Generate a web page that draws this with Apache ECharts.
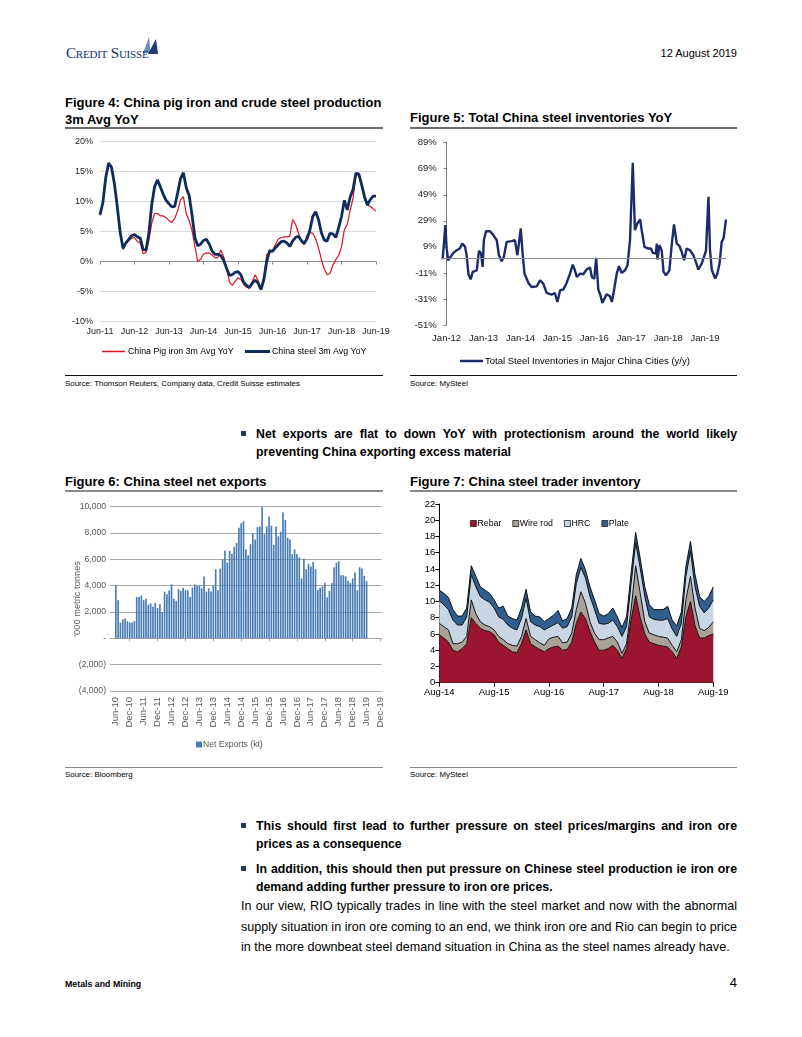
<!DOCTYPE html>
<html><head><meta charset="utf-8">
<script src="https://cdn.jsdelivr.net/npm/echarts@6/dist/echarts.min.js"></script>
<style>
html,body{margin:0;padding:0;background:#fff}
body{width:802px;height:1037px;position:relative;overflow:hidden;font-family:"Liberation Sans",Arial,sans-serif;color:#000}
.a{position:absolute;white-space:nowrap}
.title{font-weight:bold;font-size:13px;line-height:17px}
.src{font-size:7.9px;line-height:12px}
.bul{font-weight:bold;font-size:12.3px;line-height:18px}
.body{font-size:12.6px;line-height:18px}
.j{display:inline-block}
.sq{position:absolute;width:5px;height:5px;background:#1f3864}
.rule{position:absolute;height:0}
.chart{position:absolute}
</style>
</head><body>

<!-- header -->
<svg class="a" style="left:141px;top:36px" width="20" height="20" viewBox="0 0 20 20">
  <polygon points="2,17 8,1 9.5,17" fill="#6a8cc4"/>
  <polygon points="7,18 15,3 17,18" fill="#1d3c78"/>
</svg>
<div class="a" style="left:66px;top:45px;font-family:'Liberation Serif',serif;font-variant:small-caps;font-size:15px;line-height:16px;color:#13306a;letter-spacing:-0.2px">Credit Suisse</div>
<div class="a" style="right:65px;top:46px;font-size:11px;line-height:14px">12 August 2019</div>

<!-- figure 4 / 5 titles -->
<div class="a title" style="left:65px;top:93.5px">Figure 4: China pig iron and crude steel production<br>3m Avg YoY</div>
<div class="a title" style="left:410px;top:109px">Figure 5: Total China steel inventories YoY</div>
<div class="rule" style="left:65px;top:127px;width:318px;border-top:2px solid #6b6b6b"></div>
<div class="rule" style="left:410px;top:127px;width:327px;border-top:2px solid #6b6b6b"></div>

<div id="c4" class="chart" style="left:60px;top:132px;width:330px;height:235px"></div>
<div id="c5" class="chart" style="left:400px;top:132px;width:340px;height:235px"></div>

<div class="rule" style="left:65px;top:375px;width:318px;border-top:1px solid #111"></div>
<div class="rule" style="left:410px;top:375px;width:327px;border-top:1px solid #111"></div>
<div class="a src" style="left:65px;top:378px">Source: Thomson Reuters, Company data, Credit Suisse estimates</div>
<div class="a src" style="left:410px;top:378px">Source: MySteel</div>

<!-- bullet 1 -->
<div class="sq" style="left:241px;top:431px"></div>
<div class="a bul" style="left:256px;top:425px"><span class="j" data-w="481">Net exports are flat to down YoY with protectionism around the world likely</span></div>
<div class="a bul" style="left:256px;top:443px">preventing China exporting excess material</div>

<!-- figure 6 / 7 titles -->
<div class="a title" style="left:65px;top:472.5px">Figure 6: China steel net exports</div>
<div class="a title" style="left:410px;top:472.5px">Figure 7: China steel trader inventory</div>
<div class="rule" style="left:65px;top:490px;width:318px;border-top:2px solid #8a8a8a"></div>
<div class="rule" style="left:410px;top:490px;width:327px;border-top:2px solid #8a8a8a"></div>

<div id="c6" class="chart" style="left:60px;top:495px;width:340px;height:265px"></div>
<div id="c7" class="chart" style="left:400px;top:495px;width:340px;height:210px"></div>

<div class="rule" style="left:65px;top:767px;width:318px;border-top:1px solid #888"></div>
<div class="rule" style="left:410px;top:767px;width:327px;border-top:1px solid #888"></div>
<div class="a src" style="left:65px;top:769px">Source: Bloomberg</div>
<div class="a src" style="left:410px;top:769px">Source: MySteel</div>

<!-- bullets 2,3 -->
<div class="sq" style="left:241px;top:823px"></div>
<div class="a bul" style="left:256px;top:817px"><span class="j" data-w="481">This should first lead to further pressure on steel prices/margins and iron ore</span></div>
<div class="a bul" style="left:256px;top:835px">prices as a consequence</div>
<div class="sq" style="left:241px;top:866px"></div>
<div class="a bul" style="left:256px;top:860px"><span class="j" data-w="481">In addition, this should then put pressure on Chinese steel production ie iron ore</span></div>
<div class="a bul" style="left:256px;top:878px">demand adding further pressure to iron ore prices.</div>

<!-- body -->
<div class="a body" style="left:241px;top:897px"><span class="j" data-w="496">In our view, RIO typically trades in line with the steel market and now with the abnormal</span></div>
<div class="a body" style="left:241px;top:918px"><span class="j" data-w="496">supply situation in iron ore coming to an end, we think iron ore and Rio can begin to price</span></div>
<div class="a body" style="left:241px;top:938px">in the more downbeat steel demand situation in China as the steel names already have.</div>

<!-- footer -->
<div class="a" style="left:65px;top:977px;font-weight:bold;font-size:8.8px;line-height:14px">Metals and Mining</div>
<div class="a" style="right:65px;top:975px;font-size:13px;line-height:16px">4</div>

<script>
// ---------- DATA ----------
const MON = ['Jan','Feb','Mar','Apr','May','Jun','Jul','Aug','Sep','Oct','Nov','Dec'];
function monthLabels(y, m, n){ const out=[]; for(let i=0;i<n;i++){const mm=(m+i)%12, yy=y+Math.floor((m+i)/12); out.push(MON[mm]+'-'+String(yy%100).padStart(2,'0'));} return out; }

// Figure 4: Jun-11 .. Jun-19 monthly
const f4Categories = monthLabels(2011, 5, 97);
const f4SteelYoY = [7.8,9.8,14.0,16.4,15.7,13.0,9.2,4.9,2.2,3.1,
  3.7,4.3,4.5,4.1,3.9,2.0,1.9,4.7,9.5,12.5,
  13.6,12.4,11.2,10.2,9.6,9.1,9.2,11.4,13.8,14.8,
  12.3,11.0,7.8,4.0,2.6,2.9,3.5,3.7,2.9,1.7,
  1.2,1.2,1.0,0.2,-1.1,-2.3,-2.2,-1.8,-1.7,-2.2,
  -3.5,-4.0,-4.3,-3.6,-3.1,-3.6,-4.7,-3.0,0.0,1.8,
  1.7,2.3,2.8,3.3,3.4,3.1,2.5,3.4,4.0,4.2,
  3.5,3.0,3.8,5.2,7.5,8.3,7.0,4.8,3.6,3.4,
  4.7,4.6,4.0,5.6,7.5,10.2,8.6,10.7,12.0,14.7,
  14.6,12.8,10.8,9.4,10.3,10.9,10.9];
const f4PigIronYoY = [7.7,9.7,13.9,16.3,15.6,12.9,9.0,4.7,2.0,3.0,
  3.5,3.9,4.0,3.3,3.1,1.3,1.5,3.5,6.4,8.0,
  8.0,7.6,7.6,7.3,6.8,6.5,7.2,8.4,10.3,10.8,
  8.0,6.8,5.2,2.5,0.0,0.4,1.2,1.4,1.4,1.1,
  0.6,0.6,1.9,0.8,-1.0,-3.4,-4.0,-3.3,-2.7,-3.0,
  -3.8,-4.3,-4.5,-3.3,-2.2,-3.2,-4.6,-2.5,1.2,1.4,
  1.8,2.8,3.7,4.0,4.1,4.1,4.2,7.0,6.2,4.8,
  3.5,2.8,4.4,4.8,4.7,3.8,2.3,0.3,-1.2,-2.2,
  -2.0,-0.6,0.3,1.0,2.4,5.3,6.2,8.5,10.5,14.2,
  14.6,12.6,10.5,9.4,9.2,8.8,8.4];

// Figure 5: months since Jan-12, YoY %
const f5MonthsSinceJan12 = [-1.3,-0.4,0.0,0.5,1.1,2.2,3.3,4.3,5.1,6.0,6.5,7.1,7.8,8.5,9.8,10.5,11.2,11.7,12.1,12.8,
  14.1,15.2,16.3,17.0,17.9,18.6,19.5,21.1,22.2,22.8,23.0,23.5,24.1,24.7,25.3,26.6,27.6,29.3,30.4,31.4,
  32.5,34.1,35.2,36.0,36.9,37.9,39.0,40.1,41.0,41.7,42.3,43.4,44.4,45.5,46.6,47.2,48.0,48.6,49.3,49.9,
  50.6,52.0,53.1,53.7,54.4,55.3,56.0,56.9,58.0,58.8,59.6,60.5,61.2,62.0,62.9,63.4,64.3,65.6,66.4,67.0,
  68.0,68.3,68.5,69.2,69.9,70.5,71.3,72.4,73.2,73.9,74.8,75.7,76.4,77.2,78.0,79.1,80.2,81.1,81.8,82.9,
  83.7,84.3,85.1,85.6,86.2,87.3,88.0,88.7,89.4,90.0,90.8];
const f5InventoryYoY = [-0.5,25.7,8.0,-1.3,-0.7,4.4,6.4,7.7,11.6,9.0,2.6,-12.0,-15.9,-10.2,-9.0,6.0,3.9,-6.4,14.1,21.0,
  21.0,18.0,14.1,2.6,-2.0,1.3,12.8,13.4,14.1,14.1,2.6,11.6,23.1,3.9,-11.5,-18.7,-21.8,-21.3,-16.6,-19.2,
  -26.4,-27.7,-26.4,-33.3,-24.3,-23.8,-18.7,-11.5,-4.6,-9.0,-14.1,-11.5,-12.0,-8.4,-6.9,-14.1,-15.4,0.5,-23.8,-27.4,
  -34.0,-27.4,-29.0,-33.3,-24.3,-11.5,-5.9,-11.0,-9.0,-5.1,14.1,73.6,21.8,27.0,30.0,21.8,9.0,7.7,7.7,4.4,
  3.9,11.6,-0.7,10.3,6.4,-10.2,-12.8,-9.0,11.6,26.2,11.6,9.5,5.2,-1.3,7.7,6.4,2.6,-3.1,-8.4,-3.8,
  1.8,5.9,47.5,6.4,-9.0,-15.4,-11.5,-3.8,12.8,15.4,30.0];
const f5TickMonths = [0,12,24,36,48,60,72,84];

// Figure 6: Apr-10 .. Dec-19 monthly, kt
const f6Categories = monthLabels(2010, 3, 117);
const f6NetExports = [null,null,
  4000,2900,1200,1450,1500,1300,1200,
  1200,1300,3150,3150,3250,2900,3000,2550,2650,2400,2700,2300,
  2600,2000,3550,3350,3650,4100,3000,2850,3750,3600,3850,3650,
  3650,3150,3850,4100,4000,4000,3800,4700,3550,3800,3550,4000,
  5250,3650,5300,6000,6650,5750,6650,6400,6950,7250,8400,8750,
  8900,6750,6300,7150,8000,7500,8450,8500,10000,7900,8500,9250,
  8550,7100,8500,7750,8100,9550,9000,7650,7500,6400,6750,6400,
  6150,4550,6050,5250,5650,5450,5800,5250,3700,3850,3950,4200,
  3100,3600,4200,5400,5750,5850,4800,4800,4700,4350,4200,4550,
  5000,3650,5400,5300,4750,4350,
  null,null,null,null,null,null];

// Figure 7: Aug-14 .. Aug-19 monthly, mt
const f7Categories = monthLabels(2014, 7, 61);
const f7Rebar = [5.9,5.5,5.0,4.0,3.8,4.2,4.8,8.0,7.3,6.7,
  6.4,6.3,5.9,5.0,4.6,4.2,3.8,3.7,4.8,6.5,
  4.8,4.4,4.1,3.8,4.2,4.4,4.5,4.0,4.1,5.0,
  7.3,8.7,7.9,6.3,5.0,4.0,4.0,4.2,4.6,4.0,
  3.0,4.2,7.7,10.7,8.0,6.0,5.0,4.8,4.6,4.5,
  4.4,3.8,3.0,4.4,8.1,10.0,7.0,5.5,5.5,5.8,6.0];
const f7WireRod = [1.4,1.4,1.5,0.8,1.0,0.8,0.9,2.2,1.2,0.8,
  0.7,0.6,0.6,0.7,0.7,0.6,0.8,0.8,0.9,1.4,
  0.9,0.9,0.8,0.8,1.2,1.2,1.2,0.9,0.9,1.1,
  1.7,2.5,1.9,1.2,1.1,1.3,1.3,1.3,1.1,1.0,
  0.6,0.6,1.3,3.7,3.0,1.5,1.1,1.1,1.1,1.1,
  1.1,0.8,0.8,0.9,2.1,3.1,2.2,1.2,0.9,1.0,1.5];
const f7HRC = [2.8,2.7,2.5,2.9,2.3,2.1,2.4,3.1,3.3,3.1,
  3.1,3.0,2.7,2.4,2.5,2.3,2.1,2.0,2.2,2.5,
  1.8,1.8,2.0,1.9,1.4,1.5,1.7,1.8,1.9,2.0,
  3.2,3.0,3.1,3.1,2.9,2.0,1.9,1.8,2.0,1.9,
  2.1,2.1,3.2,2.8,3.1,3.1,2.0,1.9,2.0,2.1,
  2.4,2.0,1.9,2.0,2.9,3.1,2.6,2.7,2.2,2.4,2.7];
const f7Plate = [1.3,1.4,1.5,1.3,1.1,1.1,1.1,1.1,1.3,1.2,
  1.2,1.1,1.0,1.1,1.6,1.1,1.2,1.2,1.3,1.1,
  1.2,1.1,1.2,1.0,1.1,1.2,1.5,0.9,1.0,1.1,
  1.1,1.1,1.0,1.2,1.2,1.2,1.0,1.2,1.5,1.2,
  1.1,1.2,1.3,1.3,1.2,1.2,1.5,1.2,1.3,1.3,
  1.5,1.1,1.3,1.4,1.2,1.2,1.5,1.2,1.4,1.4,1.6];

// ---------- justify single lines ----------
document.querySelectorAll('.j').forEach(el=>{
  const target = parseFloat(el.dataset.w);
  const w = el.getBoundingClientRect().width;
  const n = (el.textContent.match(/ /g)||[]).length;
  if(n) el.style.wordSpacing = ((target - w)/n) + 'px';
});

const SANS = 'Liberation Sans, Arial, sans-serif';

// ---------- Figure 4 ----------
echarts.init(document.getElementById('c4')).setOption({
  animation:false,
  grid:{left:40, top:9.5, width:276, height:180, outerBoundsMode:'none'},
  legend:[
    {left:42, top:215, icon:'rect', itemWidth:23, itemHeight:1.5, padding:0,
     textStyle:{fontSize:8.8, fontFamily:SANS, color:'#000', padding:[0,0,0,-2]},
     data:['China Pig iron 3m Avg YoY']},
    {left:185, top:215, icon:'rect', itemWidth:25, itemHeight:3, padding:0,
     textStyle:{fontSize:8.8, fontFamily:SANS, color:'#000', padding:[0,0,0,-3]},
     data:['China steel 3m Avg YoY']}
  ],
  xAxis:[
    {type:'category', data:f4Categories, boundaryGap:false,
     axisLine:{show:false, onZero:false}, axisTick:{show:false}, splitLine:{show:false},
     axisLabel:{interval:11, fontSize:9, fontFamily:SANS, color:'#222', margin:6}},
    {type:'category', data:f4Categories, boundaryGap:false, position:'bottom',
     axisLine:{show:true, onZero:true, lineStyle:{color:'#8c8c8c', width:1}},
     axisTick:{show:true, interval:11, length:3, lineStyle:{color:'#8c8c8c'}},
     axisLabel:{show:false}, splitLine:{show:false}}
  ],
  yAxis:{type:'value', min:-10, max:20, interval:5,
    axisLine:{show:false}, axisTick:{show:false},
    splitLine:{lineStyle:{color:'#d9d9d9', width:1}},
    axisLabel:{formatter:'{value}%', fontSize:9, fontFamily:SANS, color:'#222', margin:7}},
  series:[
    {name:'China Pig iron 3m Avg YoY', type:'line', data:f4PigIronYoY, symbol:'none',
     lineStyle:{color:'#e0101e', width:1.2}, itemStyle:{color:'#e0101e'}},
    {name:'China steel 3m Avg YoY', type:'line', data:f4SteelYoY, symbol:'none',
     lineStyle:{color:'#0d2d5c', width:2.8}, itemStyle:{color:'#0d2d5c'}}
  ]
});

// ---------- Figure 5 ----------
echarts.init(document.getElementById('c5')).setOption({
  animation:false,
  grid:{left:41.7, top:10.7, width:284.3, height:182.3, outerBoundsMode:'none'},
  legend:{left:60, top:224, icon:'rect', itemWidth:23, itemHeight:2.5, padding:0,
    textStyle:{fontSize:9.5, fontFamily:SANS, color:'#000', padding:[0,0,0,-3]},
    data:['Total Steel Inventories in Major China Cities (y/y)']},
  xAxis:{type:'value', min:-1.6, max:90.8,
    axisLine:{show:false, onZero:false}, axisTick:{show:false}, splitLine:{show:false},
    axisLabel:{customValues:f5TickMonths, fontSize:9.5, fontFamily:SANS, color:'#222', margin:8,
      formatter:v=>'Jan-'+(12+Math.round(v/12))}},
  yAxis:{type:'value', min:-51, max:89, interval:20,
    axisLine:{show:true, lineStyle:{color:'#7f7f7f'}},
    axisTick:{show:true, length:3, lineStyle:{color:'#7f7f7f'}},
    splitLine:{show:false},
    axisLabel:{formatter:'{value}%', fontSize:9.5, fontFamily:SANS, color:'#222', margin:5}},
  series:[{name:'Total Steel Inventories in Major China Cities (y/y)', type:'line',
    data:f5MonthsSinceJan12.map((m,i)=>[m, f5InventoryYoY[i]]), symbol:'none',
    lineStyle:{color:'#1c2b6b', width:2.4}, itemStyle:{color:'#1c2b6b'},
    markLine:{silent:true, symbol:['none','none'], label:{show:false},
      lineStyle:{color:'#8c8c8c', width:1, type:'solid'}, data:[{yAxis:0}]}}]
});

// ---------- Figure 6 ----------
function fmt6(v){ if(v===0) return '-'; const s=Math.abs(v).toLocaleString('en-US'); return v<0?'('+s+')':s; }
const lab6 = (i)=> (i-2)%6===0;
echarts.init(document.getElementById('c6')).setOption({
  animation:false,
  grid:{left:50, top:11.7, width:271.7, height:184.3, outerBoundsMode:'none'},
  legend:{left:136, top:245, itemWidth:6, itemHeight:6, icon:'rect', padding:0,
    textStyle:{fontSize:8.6, fontFamily:SANS, color:'#595959', padding:[0,0,0,-4]},
    data:['Net Exports (kt)']},
  xAxis:[
    {type:'category', data:f6Categories,
     axisLine:{show:false, onZero:false}, axisTick:{show:false}, splitLine:{show:false},
     axisLabel:{interval:lab6, rotate:90, fontSize:9.5, fontFamily:SANS, color:'#595959', margin:6}},
    {type:'category', data:f6Categories, position:'bottom',
     axisLine:{show:true, onZero:true, lineStyle:{color:'#a6a6a6'}},
     axisTick:{show:true, alignWithLabel:true, interval:(i)=>(i-8)%12===0, length:3, lineStyle:{color:'#a6a6a6'}},
     axisLabel:{show:false}, splitLine:{show:false}}
  ],
  yAxis:{type:'value', min:-4000, max:10000, interval:2000,
    name:"'000 metric tonnes", nameLocation:'middle', nameGap:28, nameRotate:90, nameMoveOverlap:false,
    nameTextStyle:{fontSize:9.3, fontFamily:SANS, color:'#595959'},
    axisLine:{show:false}, axisTick:{show:false},
    splitLine:{lineStyle:{color:'#a6a6a6', width:1}},
    axisLabel:{formatter:fmt6, fontSize:8.6, fontFamily:SANS, color:'#595959', margin:4}},
  series:[{name:'Net Exports (kt)', type:'bar', data:f6NetExports, barCategoryGap:'28%',
    itemStyle:{color:'#4a7db5'}}]
});

// ---------- Figure 7 ----------
const f7Colors = {rebar:'#9b1430', wire:'#aaa299', hrc:'#c8d5e4', plate:'#2f5e8f'};
function areaSeries(name, data, color){
  return {name, type:'line', stack:'inv', data, symbol:'none',
    lineStyle:{color:'#111', width:1}, itemStyle:{color},
    areaStyle:{color, opacity:1}};
}
echarts.init(document.getElementById('c7')).setOption({
  animation:false,
  grid:{left:39.3, top:9, width:274, height:178.7, outerBoundsMode:'none'},
  legend:{left:70, top:24, icon:'rect', itemWidth:6, itemHeight:6, itemGap:11, padding:0,
    itemStyle:{borderColor:'#222', borderWidth:0.8},
    textStyle:{fontSize:8.8, fontFamily:SANS, color:'#000', padding:[0,0,0,-4]},
    data:['Rebar','Wire rod','HRC','Plate']},
  xAxis:{type:'category', data:f7Categories, boundaryGap:false,
    axisLine:{lineStyle:{color:'#000'}},
    axisTick:{show:true, interval:11, length:4, lineStyle:{color:'#000'}},
    axisLabel:{interval:11, fontSize:9.5, fontFamily:SANS, color:'#000', margin:5}},
  yAxis:{type:'value', min:0, max:22, interval:2,
    axisLine:{show:true, lineStyle:{color:'#000'}},
    axisTick:{show:true, length:4, lineStyle:{color:'#000'}},
    splitLine:{show:false},
    axisLabel:{fontSize:9.5, fontFamily:SANS, color:'#000', margin:4}},
  series:[
    areaSeries('Rebar', f7Rebar, f7Colors.rebar),
    areaSeries('Wire rod', f7WireRod, f7Colors.wire),
    areaSeries('HRC', f7HRC, f7Colors.hrc),
    areaSeries('Plate', f7Plate, f7Colors.plate)
  ]
});
</script>
</body></html>
